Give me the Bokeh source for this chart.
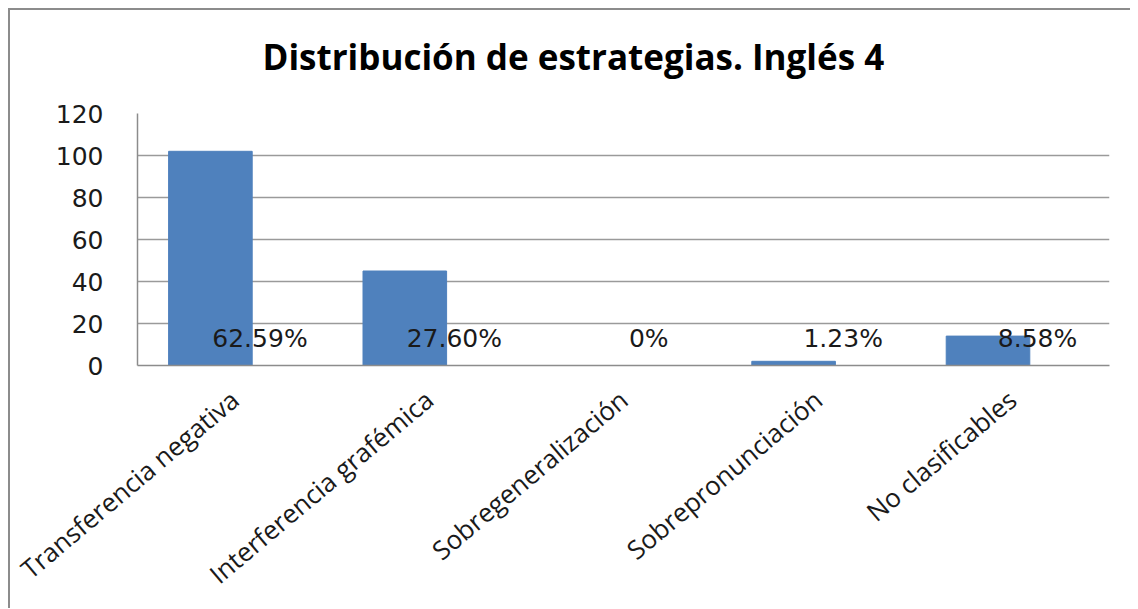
from bokeh.plotting import figure
from bokeh.models import ColumnDataSource, Title, FixedTicker
from bokeh.transform import dodge
from bokeh.core.properties import value
from bokeh.embed import file_html
from bokeh.resources import INLINE

categories = ["Transferencia negativa", "Interferencia grafémica", "Sobregeneralización",
              "Sobrepronunciación", "No clasificables"]
counts = [102, 45, 0, 2, 14]
pct_labels = ["62.59%", "27.60%", "0%", "1.23%", "8.58%"]
y_ticks = [0, 20, 40, 60, 80, 100, 120]
title_text = "Distribución de estrategias. Inglés 4"

label_y = [12.9] * len(categories)

src = ColumnDataSource(dict(cat=categories, val=counts, lab=pct_labels, ly=label_y))

p = figure(x_range=categories, y_range=(0, 120), width=1122, height=600,
           output_backend="svg", toolbar_location=None, title=None,
           min_border_left=127, min_border_right=23, min_border_top=103, min_border_bottom=245)
p.styles = {"border-left": "2px solid #8c8c8c", "border-top": "2px solid #8c8c8c",
            "box-sizing": "border-box", "margin-left": "8px", "margin-top": "8px"}

p.vbar(x=dodge("cat", -0.125, range=p.x_range), top="val", width=0.43, source=src,
       fill_color="#4F81BD", line_color="#4F81BD")

p.text(x=dodge("cat", 0.13, range=p.x_range), y="ly", text="lab", source=src,
       text_font=value("DejaVu Sans"), text_font_size="25px", text_color="#1a1a1a",
       text_align="center", text_baseline="middle")

p.outline_line_color = None
p.xgrid.grid_line_color = None
p.ygrid.grid_line_color = "#9a9a9a"
p.ygrid.grid_line_width = 1.5

p.yaxis.ticker = FixedTicker(ticks=y_ticks)
p.yaxis.major_label_text_font = "DejaVu Sans"
p.yaxis.major_label_text_font_size = "25px"
p.yaxis.major_label_text_color = "#1a1a1a"
p.yaxis.major_tick_line_color = None
p.yaxis.minor_tick_line_color = None
p.yaxis.axis_line_color = "#8c8c8c"
p.yaxis.axis_line_width = 1.5
p.yaxis.major_label_standoff = 28

p.xaxis.major_label_orientation = 0.70
p.xaxis.major_label_text_font = "Open Sans"
p.xaxis.major_label_text_font_size = "26px"
p.xaxis.major_label_text_color = "#1a1a1a"
p.xaxis.major_tick_line_color = None
p.xaxis.axis_line_color = "#8c8c8c"
p.xaxis.axis_line_width = 1.5
p.xaxis.major_label_standoff = 24

p.add_layout(Title(text=" ", text_font_size="16px"), "above")
p.add_layout(Title(text=title_text, align="left", offset=125,
                   text_font="Open Sans", text_font_style="bold", text_font_size="35px",
                   text_color="#000000"), "above")

open("out.html", "w").write(file_html(p, INLINE))
